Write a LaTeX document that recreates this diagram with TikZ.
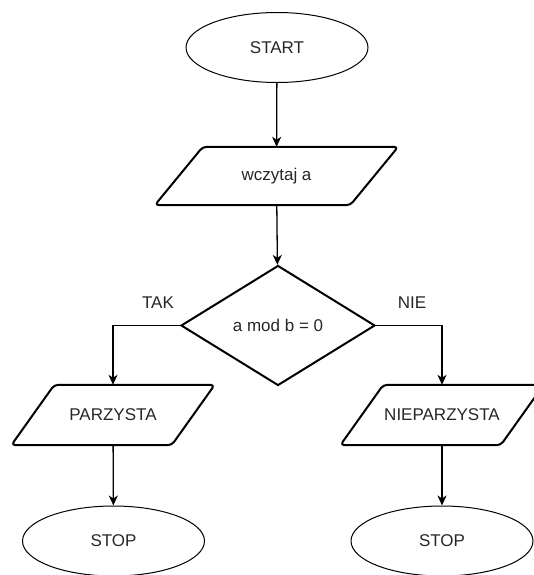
\documentclass[tikz,border=0pt]{standalone}
\usepackage{fontspec}
\setmainfont{Liberation Sans}
\usetikzlibrary{shapes.geometric,arrows.meta}
\begin{document}
\begin{tikzpicture}[x=1pt,y=-1pt,
  every node/.style={font=\fontsize{17}{20}\selectfont, text=black!85},
  term/.style={ellipse, draw, line width=1pt, minimum width=182pt, minimum height=70pt, inner sep=0pt},
  io/.style={rectangle, minimum height=58pt, inner sep=0pt},
  ioline/.style={draw, line width=2pt, rounded corners=4pt, line join=round},
  decis/.style={diamond, draw, line width=2pt, aspect=1.62, minimum width=194pt, minimum height=120pt, inner sep=0pt},
  conn/.style={line width=1.3pt, -{Stealth[length=10pt,width=9pt,inset=3pt]}},
  lbl/.style={inner sep=0pt}
]
\useasboundingbox (0,0) rectangle (533,575);
\node[term] (start) at (277,47.5) {START};
\node[io, minimum width=195pt] (read) at (276.5,176) {wczytaj a};
\node[decis] (dec) at (278,325.5) {a mod b = 0};
\node[io, minimum width=160pt, minimum height=60pt] (par) at (113,415) {PARZYSTA};
\node[io, minimum width=160pt, minimum height=60pt] (npar) at (442,415) {NIEPARZYSTA};
\node[term] (stop1) at (113.5,541) {STOP};
\node[term] (stop2) at (442,541) {STOP};
\node[lbl] (tak) at (158,303) {TAK};
\node[lbl] (nie) at (412,303) {NIE};
% parallelogram outlines
\path[ioline] ([xshift=24pt]read.north west) -- ([xshift=24pt]read.north east) -- ([xshift=-24pt]read.south east) -- ([xshift=-24pt]read.south west) -- cycle;
\path[ioline] ([xshift=21.5pt]par.north west) -- ([xshift=21.5pt]par.north east) -- ([xshift=-21.5pt]par.south east) -- ([xshift=-21.5pt]par.south west) -- cycle;
\path[ioline] ([xshift=21.5pt]npar.north west) -- ([xshift=21.5pt]npar.north east) -- ([xshift=-21.5pt]npar.south east) -- ([xshift=-21.5pt]npar.south west) -- cycle;
\draw[conn] (start) -- (read);
\draw[conn] (read) -- (dec);
\draw[conn] (dec.west) -| (par.north);
\draw[conn] (dec.east) -| (npar.north);
\draw[conn] (par) -- (stop1);
\draw[conn] (npar) -- (stop2);
\end{tikzpicture}
\end{document}
